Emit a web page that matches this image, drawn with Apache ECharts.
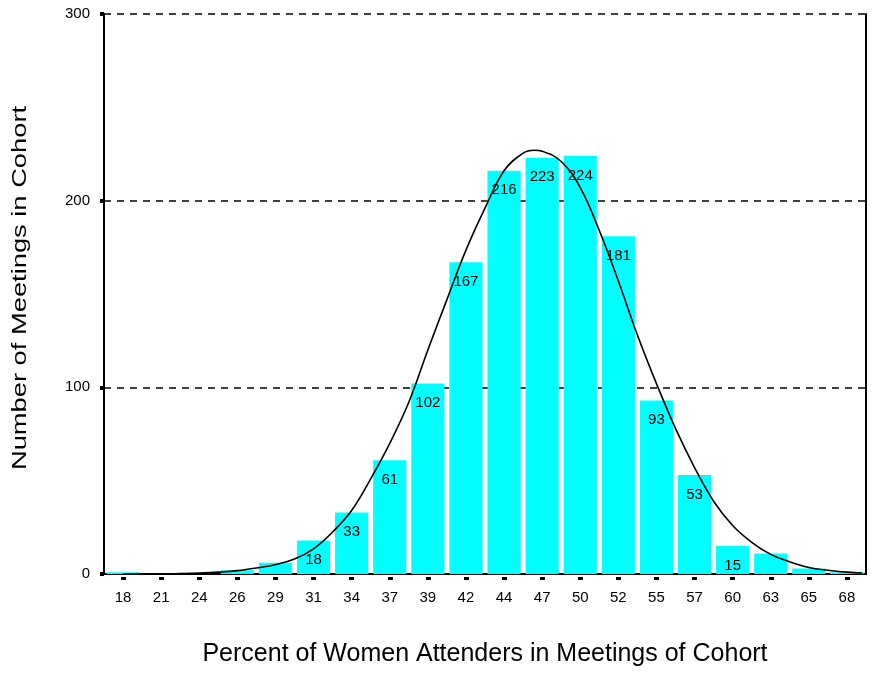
<!DOCTYPE html>
<html>
<head>
<meta charset="utf-8">
<script src="https://cdn.jsdelivr.net/npm/echarts@6/dist/echarts.min.js"></script>
<style>
html,body{margin:0;padding:0;background:#fff;}
#chart{width:873px;height:675px;}
</style>
</head>
<body>
<div id="chart"></div>
<script>
// Bin labels (percent of women attenders)
var categories = ['18','21','24','26','29','31','34','37','39','42','44','47','50','52','55','57','60','63','65','68'];
// Number of meetings per bin
var counts = [1, 0, 0, 2, 6, 18, 33, 61, 102, 167, 216, 223, 224, 181, 93, 53, 15, 11, 3, 1];
// Bins whose count is printed on the bar
var labelledBins = ['31','34','37','39','42','44','47','50','52','55','57','60'];
// Fitted normal curve at half-bin steps (x in bin-index units)
var curveX = [0, 0.5, 1, 1.5, 2, 2.5, 3, 3.5, 4, 4.5, 5, 5.5, 6, 6.5, 7, 7.5, 8, 8.5, 9, 9.5, 10, 10.5, 10.8, 11, 11.5, 12, 12.5, 13, 13.5, 14, 14.5, 15, 15.5, 16, 16.5, 17, 17.5, 18, 18.5, 19, 19.4];
var curveY = [0, 0, 0, 0.2, 0.5, 1, 1.8, 3.2, 5, 8, 13.5, 22.5, 34, 51, 70, 92, 120, 147, 173.5, 196, 216, 225.5, 227, 226.5, 221, 207, 184, 157, 128, 102, 78, 57, 39, 26, 17, 10.5, 6.5, 3.5, 2, 1, 0.5];
// Y axis ticks
var yMin = 0, yMax = 300, yStep = 100;
var xTitle = 'Percent of Women Attenders in Meetings of Cohort';
var yTitle = 'Number of Meetings in Cohort';

var FONT = 'Liberation Sans, Arial, sans-serif';
var chart = echarts.init(document.getElementById('chart'), null, {renderer: 'canvas'});

var barData = counts.map(function (v, i) {
  return {
    value: v,
    label: {show: labelledBins.indexOf(categories[i]) >= 0}
  };
});
var curveData = curveX.map(function (x, i) { return [x, curveY[i]]; });

chart.setOption({
  animation: false,
  backgroundColor: '#ffffff',
  grid: {left: 104, right: 7, top: 14, bottom: 101, containLabel: false},
  graphic: [{
    type: 'text',
    x: 20,
    y: 288,
    rotation: Math.PI / 2,
    scaleX: 1.3,
    style: {
      text: yTitle,
      font: '21px ' + FONT,
      fill: '#000',
      textAlign: 'center',
      textVerticalAlign: 'middle'
    }
  }],
  xAxis: [{
    type: 'category',
    data: categories,
    boundaryGap: true,
    name: xTitle,
    nameLocation: 'middle',
    nameGap: 68,
    nameTextStyle: {fontFamily: FONT, fontSize: 25, color: '#000'},
    axisLine: {show: true, onZero: false, lineStyle: {color: '#000', width: 2}},
    axisTick: {show: true, alignWithLabel: true, length: 6, lineStyle: {color: '#000', width: 5, type: [0, 3, 3, 10]}},
    axisLabel: {fontFamily: FONT, fontSize: 15, color: '#000', margin: 16, interval: 0},
    splitLine: {show: false}
  }, {
    type: 'value',
    min: -0.5,
    max: 19.5,
    show: false
  }],
  yAxis: [{
    type: 'value',
    min: yMin,
    max: yMax,
    interval: yStep,
    axisLine: {show: true, onZero: false, lineStyle: {color: '#000', width: 2}},
    axisTick: {show: true, length: 4, lineStyle: {color: '#000', width: 4}},
    axisLabel: {fontFamily: FONT, fontSize: 15, color: '#000', margin: 14},
    splitLine: {show: true, lineStyle: {color: '#000', width: 1.5, type: [7, 6]}}
  }, {
    type: 'value',
    position: 'right',
    min: yMin,
    max: yMax,
    interval: yStep,
    axisLine: {show: true, onZero: false, lineStyle: {color: '#000', width: 2}},
    axisTick: {show: false},
    axisLabel: {show: false},
    splitLine: {show: false}
  }],
  series: [{
    type: 'bar',
    data: barData,
    xAxisIndex: 0,
    yAxisIndex: 0,
    barCategoryGap: '13%',
    itemStyle: {color: '#00ffff'},
    label: {
      position: 'insideTop',
      distance: 12,
      fontFamily: FONT,
      fontSize: 15,
      color: '#000'
    },
    z: 2
  }, {
    type: 'line',
    data: curveData,
    xAxisIndex: 1,
    yAxisIndex: 0,
    smooth: 0.4,
    showSymbol: false,
    symbol: 'none',
    lineStyle: {color: '#000', width: 1.6},
    z: 3
  }]
});
</script>
</body>
</html>
